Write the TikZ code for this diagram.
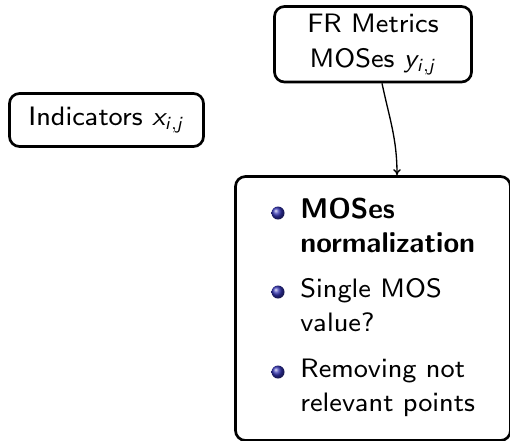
\documentclass[tikz,border=0pt]{standalone}
\usetikzlibrary{arrows.meta}
\DeclareFontFamily{OT1}{mss}{}
\DeclareFontShape{OT1}{mss}{m}{n}{<->cmss8}{}
\DeclareFontShape{OT1}{mss}{m}{sl}{<->cmssi8}{}
\DeclareFontShape{OT1}{mss}{bx}{n}{<->s*[1.07]cmssbx10}{}
\DeclareFontShape{OT1}{mss}{b}{n}{<->ssub*mss/bx/n}{}
\DeclareMathAlphabet{\mathsl}{OT1}{mss}{m}{sl}
\definecolor{structblue}{rgb}{0.2,0.2,0.7}
\newcommand{\pxu}{0.45pt}
\newcommand{\diagfont}{\fontencoding{OT1}\fontfamily{mss}\fontsize{12}{15.75}\selectfont}
\begin{document}
\begin{tikzpicture}[x=0.45pt,y=-0.45pt,
  box/.style={draw, line width=1.2pt, rounded corners=4.5pt, fill=white, inner sep=0pt,
    font=\diagfont, align=center},
  itemline/.style={anchor=base west, inner sep=0pt, font=\diagfont},
  ballbullet/.style={ball color=structblue},
  conn/.style={line width=0.6pt, -{To[length=2.7pt,width=3.4pt]}}]
\useasboundingbox (0,0) rectangle (510,440);
\fill[white] (0,0) rectangle (510,440);
\clip (0,0) rectangle (510,440);
\node[box, minimum width=194*\pxu, minimum height=53*\pxu] (ind) at (106.5,120)
  {Indicators $\mathsl{x}_{\mathsl{i,j}}$};
\node[box, minimum width=197*\pxu, minimum height=75.5*\pxu] (fr) at (373,44.25)
  {FR Metrics\\MOSes $\mathsl{y}_{\mathsl{i,j}}$};
\node[box, minimum width=275*\pxu, minimum height=264*\pxu] (rb) at (373,308.5) {};
\shade[ballbullet] (278,213) circle[radius=6.5];
\shade[ballbullet] (278,292) circle[radius=6.5];
\shade[ballbullet] (278,372) circle[radius=6.5];
\node[itemline] (l1) at (300,218) {\bfseries MOSes};
\node[itemline] (l2) at (300,252) {\bfseries normalization};
\node[itemline] (l3) at (300,297) {Single MOS};
\node[itemline] (l4) at (300,331) {value?};
\node[itemline] (l5) at (300,377) {Removing not};
\node[itemline] (l6) at (300,411) {relevant points};
\draw[conn] ([xshift=9*\pxu]fr.south) to[out=-78,in=90] ([xshift=24*\pxu]rb.north);
\end{tikzpicture}
\end{document}
